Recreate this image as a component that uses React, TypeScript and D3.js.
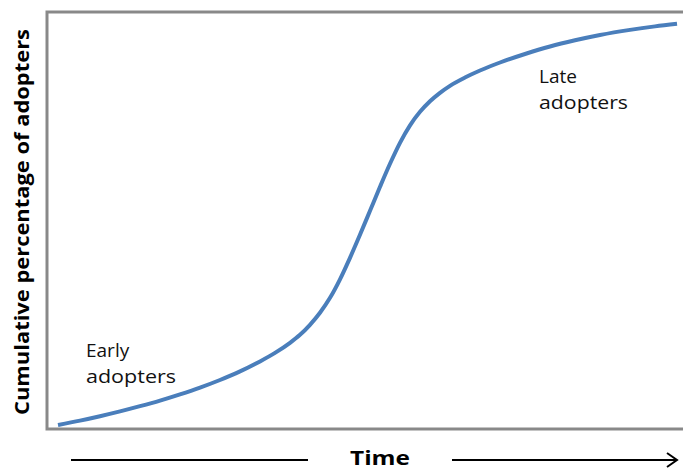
import React from "react";
import * as d3 from "d3";

const timeValues = [1.73, 5.19, 8.33, 11.48, 14.62, 17.77, 20.91, 24.06, 27.2, 30.35, 33.49, 35.85, 38.21, 39.78, 41.35, 42.92, 44.5, 46.07, 47.64, 49.21, 50.79, 52.36, 53.93, 55.5, 57.08, 58.65, 60.22, 61.79, 63.36, 65.72, 68.08, 71.23, 75.16, 79.09, 83.02, 86.95, 91.67, 95.6, 99.06];
const adoptionValues = [0.96, 2.01, 3.07, 4.22, 5.47, 6.81, 8.3, 9.93, 11.75, 13.81, 16.21, 18.25, 20.67, 22.59, 24.99, 27.87, 31.46, 35.9, 41.05, 46.57, 52.33, 58.08, 63.6, 68.63, 72.83, 76.07, 78.59, 80.62, 82.3, 84.29, 85.97, 87.89, 89.93, 91.73, 93.21, 94.48, 95.71, 96.55, 97.17];
const yAxisLabel = "Cumulative percentage of adopters";
const xAxisLabel = "Time";
const earlyLabel = ["Early", "adopters"];
const lateLabel = ["Late", "adopters"];

const W = 683;
const H = 470;

export default function App() {
  const x = d3.scaleLinear().domain([0, 100]).range([47, 683]);
  const y = d3.scaleLinear().domain([0, 100]).range([429, 12]);
  const pts: [number, number][] = timeValues.map((t, i) => [t, adoptionValues[i]]);
  const line = d3
    .line<[number, number]>()
    .x((d) => x(d[0]))
    .y((d) => y(d[1]))
    .curve(d3.curveMonotoneX);

  const labelFont = "Open Sans, Noto Sans, sans-serif";
  return (
    <svg
      width={W}
      height={H}
      style={{ position: "absolute", left: 0, top: 0, background: "#fff" }}
    >
      <path
        d={`M${x(100)},${y(100)} L${x(0)},${y(100)} L${x(0)},${y(0)} L${x(100)},${y(0)}`}
        fill="none"
        stroke="#898989"
        strokeWidth={3}
      />
      <path d={line(pts) || ""} fill="none" stroke="#4a7ebb" strokeWidth={4} strokeLinecap="butt" />

      <text x={86} y={357} fontFamily={labelFont} fontSize={19} fill="#111">
        {earlyLabel[0]}
      </text>
      <text x={86} y={383} fontFamily={labelFont} fontSize={19} fill="#111" textLength={90} lengthAdjust="spacingAndGlyphs">
        {earlyLabel[1]}
      </text>
      <text x={539} y={83} fontFamily={labelFont} fontSize={19} fill="#111">
        {lateLabel[0]}
      </text>
      <text x={539} y={109} fontFamily={labelFont} fontSize={19} fill="#111" textLength={89} lengthAdjust="spacingAndGlyphs">
        {lateLabel[1]}
      </text>

      <text
        transform="translate(29,222) rotate(-90)"
        textAnchor="middle"
        fontFamily={labelFont}
        fontWeight="bold"
        fontSize={19}
        fill="#000"
        textLength={386}
        lengthAdjust="spacingAndGlyphs"
      >
        {yAxisLabel}
      </text>

      <text
        x={380}
        y={465}
        textAnchor="middle"
        fontFamily={labelFont}
        fontWeight="bold"
        fontSize={20}
        fill="#000"
        textLength={60}
        lengthAdjust="spacingAndGlyphs"
      >
        {xAxisLabel}
      </text>
      <line x1={71} y1={460} x2={308} y2={460} stroke="#000" strokeWidth={2} />
      <line x1={452} y1={460} x2={677} y2={460} stroke="#000" strokeWidth={2} />
      <path d="M667,453 L677,460 L667,467" fill="none" stroke="#000" strokeWidth={2} />
    </svg>
  );
}
